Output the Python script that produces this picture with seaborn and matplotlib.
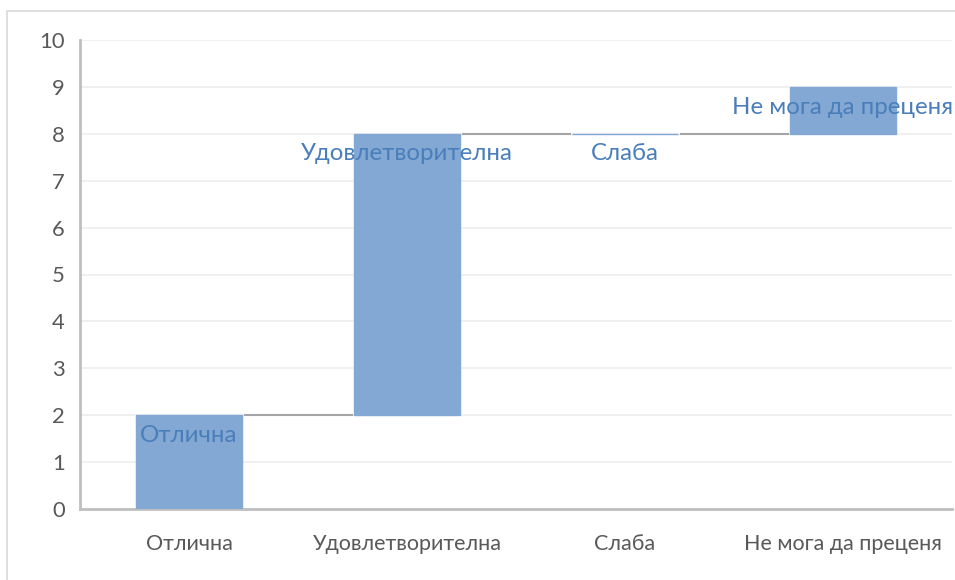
import matplotlib
matplotlib.use("Agg")
import matplotlib.pyplot as plt
from matplotlib.patches import Rectangle
import seaborn as sns
import pandas as pd

categories = ["Отлична", "Удовлетворителна", "Слаба", "Не мога да преценя"]
changes = [2, 6, 0, 1]

BAR_COLOR = "#82A8D3"
LABEL_COLOR = "#4A7EBB"
TICK_COLOR = "#595959"
AXIS_COLOR = "#BFBFBF"

sns.set_theme(style="white")
plt.rcParams["font.family"] = ["Lato", "DejaVu Sans"]

# running totals for the waterfall
ends = pd.Series(changes).cumsum().tolist()
starts = [e - c for e, c in zip(ends, changes)]
df = pd.DataFrame({"category": categories, "change": changes, "start": starts, "end": ends})

fig = plt.figure(figsize=(9.55, 5.8), dpi=100)
ax = fig.add_axes([80 / 955, 1 - 509 / 580, 872 / 955, 469 / 580])

sns.barplot(data=df, x="category", y="change", bottom=df["start"], color=BAR_COLOR,
            saturation=1, width=0.49, edgecolor=BAR_COLOR, linewidth=1, ax=ax, zorder=3)

# connectors
for i in range(len(df) - 1):
    ax.hlines(df["end"][i], i + 0.25, i + 0.75, color="#A5A5A5", lw=1.5, zorder=2)

# labels inside bars, just below the top
for i, row in df.iterrows():
    ax.annotate(row["category"], (i, row["end"]), xytext=(0, -14.5), textcoords="offset points",
                ha="center", va="center", fontsize=17.3, color=LABEL_COLOR, zorder=4)

ax.set_xlim(-0.5, 3.5)
ax.set_ylim(0, 10)
ax.set_yticks(range(0, 11))
ax.yaxis.grid(True, color="#EDEDED", lw=1.2, zorder=0)
ax.set_axisbelow(True)
ax.set_xlabel("")
ax.set_ylabel("")
for s in ["top", "right"]:
    ax.spines[s].set_visible(False)
for s in ["left", "bottom"]:
    ax.spines[s].set_color(AXIS_COLOR)
    ax.spines[s].set_linewidth(2)
ax.tick_params(axis="y", length=0, pad=11, labelsize=15.8, labelcolor=TICK_COLOR)
ax.tick_params(axis="x", length=0, pad=18, labelsize=15.5, labelcolor=TICK_COLOR)

# outer chart frame (cut off at right and bottom)
fig.patches.append(Rectangle((7 / 955, -0.1), 1.2, 1.1 - 11 / 580, transform=fig.transFigure,
                             fill=False, edgecolor="#D9D9D9", lw=1.2))

fig.savefig("out.png", dpi=100)
